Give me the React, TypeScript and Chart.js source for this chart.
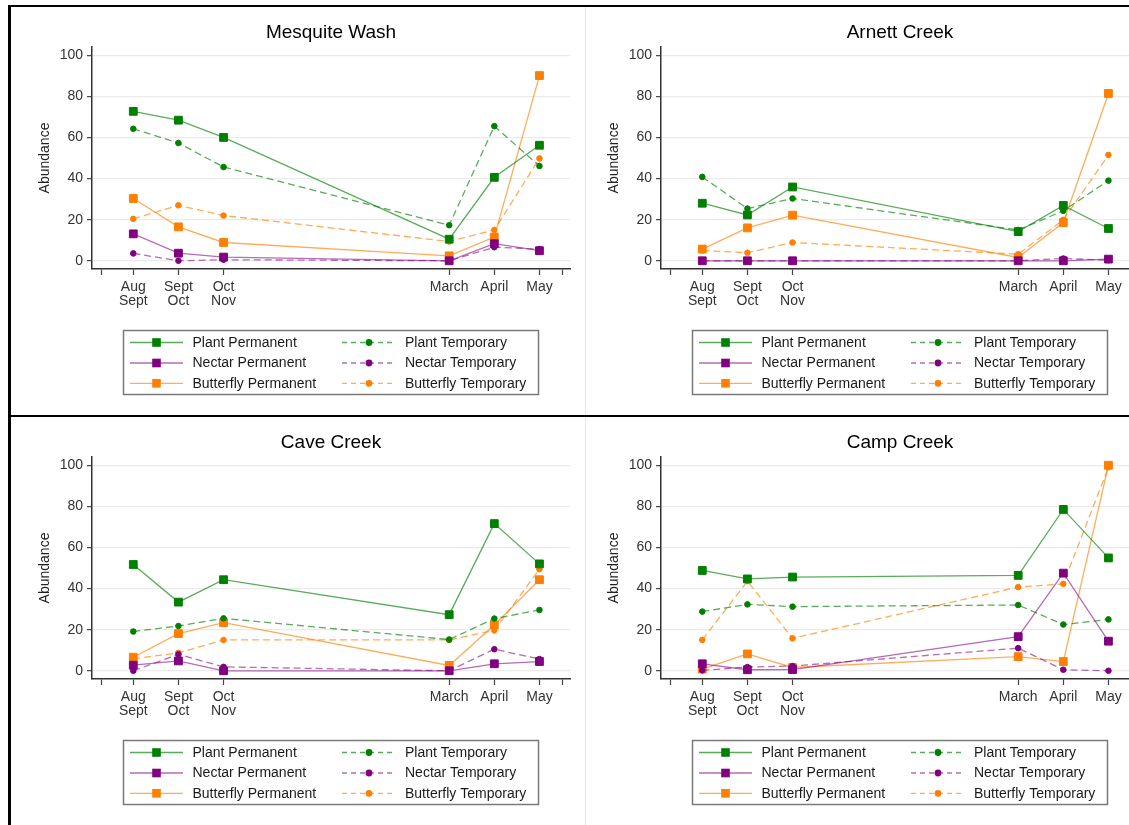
import React, { useEffect, useRef } from "react";
import { Chart, registerables } from "chart.js";

Chart.register(...registerables);

const FONT = '"Liberation Sans", Arial, Helvetica, sans-serif';
Chart.defaults.font.family = FONT;

// ---------- data ----------
const periodLabels: (string | string[])[] = [["Aug", "Sept"], ["Sept", "Oct"], ["Oct", "Nov"], "March", "April", "May"];
const periodX = [0, 1, 2, 7, 8, 9];
const edgeTicks = [-0.7, 9.5];
const yTicks = [0, 20, 40, 60, 80, 100];
const seriesNames = [
  "Plant Permanent",
  "Plant Temporary",
  "Nectar Permanent",
  "Nectar Temporary",
  "Butterfly Permanent",
  "Butterfly Temporary",
];

// Mesquite Wash
const mesquitePlantPerm = [72.7, 68.4, 60.0, 10.5, 40.6, 56.2];
const mesquitePlantTemp = [64.2, 57.3, 45.6, 17.3, 65.5, 46.1];
const mesquiteNectarPerm = [13.1, 3.7, 1.8, 0, 8.3, 4.9];
const mesquiteNectarTemp = [3.6, 0, 0.5, 0, 6.6, 5.7];
const mesquiteButterflyPerm = [30.3, 16.5, 8.9, 2.4, 11.5, 90.1];
const mesquiteButterflyTemp = [20.4, 27.0, 22.0, 9.4, 15.0, 49.8];

// Arnett Creek
const arnettPlantPerm = [28.0, 22.3, 35.9, 14.2, 26.9, 15.7];
const arnettPlantTemp = [40.8, 25.4, 30.3, 15.0, 24.3, 39.0];
const arnettNectarPerm = [0, 0, 0, 0, 0, 0.8];
const arnettNectarTemp = [0, 0, 0, 0, 1.1, 0.3];
const arnettButterflyPerm = [5.7, 16.0, 22.2, 1.6, 18.6, 81.4];
const arnettButterflyTemp = [5.0, 3.9, 8.9, 3.2, 19.9, 51.5];

// Cave Creek
const cavePlantPerm = [51.7, 33.4, 44.3, 27.3, 71.6, 52.0];
const cavePlantTemp = [19.1, 21.8, 25.5, 15.2, 25.4, 29.6];
const caveNectarPerm = [2.7, 4.8, 0, 0, 3.4, 4.5];
const caveNectarTemp = [0, 8.0, 1.9, 0, 10.5, 5.7];
const caveButterflyPerm = [6.6, 18.1, 23.4, 2.6, 22.3, 44.3];
const caveButterflyTemp = [5.8, 8.7, 15.0, 15.0, 19.7, 49.4];

// Camp Creek
const campPlantPerm = [48.8, 44.7, 45.6, 46.4, 78.5, 54.9];
const campPlantTemp = [28.8, 32.3, 31.2, 32.0, 22.5, 25.0];
const campNectarPerm = [3.4, 0.5, 0.6, 16.6, 47.5, 14.4];
const campNectarTemp = [0.2, 1.8, 2.3, 11.0, 0.5, 0];
const campButterflyPerm = [0.8, 8.2, 1.6, 6.9, 4.5, 100];
const campButterflyTemp = [15.0, 43.6, 15.8, 40.7, 42.3, 99.0];

// ---------- styling ----------
const W = 575;
const H = 405;

const groupColors = [
  { marker: "#008000", line: "rgba(0,128,0,0.65)" },
  { marker: "#800080", line: "rgba(128,0,128,0.58)" },
  { marker: "#ff7f00", line: "rgba(255,127,0,0.65)" },
];

function buildDatasets(series: number[][]) {
  return series.map((vals, i) => {
    const group = groupColors[Math.floor(i / 2)];
    const temporary = i % 2 === 1;
    return {
      label: seriesNames[i],
      data: periodX.map((x, k) => ({ x, y: vals[k] })),
      borderColor: group.line,
      backgroundColor: group.marker,
      borderWidth: 1.3,
      borderDash: temporary ? [7, 4] : [],
      tension: 0,
      pointStyle: temporary ? "circle" : "rect",
      pointRadius: temporary ? 2.8 : 5.5,
      pointBorderWidth: 1,
      pointBackgroundColor: group.marker,
      pointBorderColor: group.marker,
      pointHoverRadius: temporary ? 2.8 : 5.5,
    };
  });
}

const legendLayout = {
  box: { x: 113.5, y: 322.5, w: 415, h: 64 },
  rows: [334.5, 355, 375.3],
  cols: [
    { x0: 120, x1: 173, text: 182.5 },
    { x0: 332, x1: 386, text: 395 },
  ],
};

const boxLegend = {
  id: "boxLegend",
  afterDraw(chart: any) {
    const ctx = chart.ctx as CanvasRenderingContext2D;
    const L = legendLayout;
    ctx.save();
    ctx.strokeStyle = "#7a7a7a";
    ctx.lineWidth = 1.5;
    ctx.setLineDash([]);
    ctx.strokeRect(L.box.x, L.box.y, L.box.w, L.box.h);
    chart.data.datasets.forEach((ds: any, i: number) => {
      const col = L.cols[i % 2];
      const y = L.rows[Math.floor(i / 2)];
      ctx.strokeStyle = ds.borderColor;
      ctx.lineWidth = ds.borderWidth;
      ctx.setLineDash(ds.borderDash && ds.borderDash.length ? [5, 4] : []);
      ctx.beginPath();
      ctx.moveTo(col.x0, y);
      ctx.lineTo(col.x1, y);
      ctx.stroke();
      ctx.setLineDash([]);
      const xm = (col.x0 + col.x1) / 2;
      ctx.fillStyle = ds.pointBackgroundColor;
      if (ds.pointStyle === "rect") {
        ctx.fillRect(xm - 4.3, y - 4.3, 8.6, 8.6);
      } else {
        ctx.beginPath();
        ctx.arc(xm, y, 3.4, 0, Math.PI * 2);
        ctx.fill();
      }
      ctx.fillStyle = "#1a1a1a";
      ctx.font = `14px ${FONT}`;
      ctx.textBaseline = "middle";
      ctx.textAlign = "left";
      ctx.fillText(ds.label, col.text, y + 0.5);
    });
    ctx.restore();
  },
};

function Panel({ title, series, left, top }: { title: string; series: number[][]; left: number; top: number }) {
  const ref = useRef<HTMLCanvasElement>(null);
  useEffect(() => {
    const chart = new Chart(ref.current as HTMLCanvasElement, {
      type: "line",
      data: { datasets: buildDatasets(series) as any },
      plugins: [boxLegend],
      options: {
        animation: false,
        responsive: false,
        maintainAspectRatio: false,
        layout: { padding: { left: 0, right: 15, top: 0, bottom: 100 } },
        plugins: {
          legend: { display: false },
          tooltip: { enabled: false },
          title: {
            display: true,
            text: title,
            fullSize: false,
            color: "#000",
            font: { family: FONT, size: 19, weight: "normal", lineHeight: 1.2 },
            padding: { top: 12.9, bottom: 3.3 },
          },
        },
        scales: {
          x: {
            type: "linear",
            min: -0.915,
            max: 9.677,
            afterBuildTicks: (s: any) => {
              s.ticks = [edgeTicks[0], ...periodX, edgeTicks[1]].map((v) => ({ value: v }));
            },
            afterFit: (s: any) => {
              s.height = 44;
            },
            ticks: {
              autoSkip: false,
              maxRotation: 0,
              minRotation: 0,
              padding: 4.7,
              color: "#333",
              font: { family: FONT, size: 14, lineHeight: 1.0 },
              callback: (v: any) => {
                const i = periodX.indexOf(Number(v));
                return i >= 0 ? periodLabels[i] : "";
              },
            },
            grid: {
              display: true,
              drawOnChartArea: false,
              drawTicks: true,
              tickLength: 6,
              tickColor: "#444",
              tickWidth: 1.2,
            },
            border: { display: true, color: "#333", width: 1.5 },
          },
          y: {
            type: "linear",
            min: -4,
            max: 104,
            afterBuildTicks: (s: any) => {
              s.ticks = yTicks.map((v) => ({ value: v }));
            },
            afterFit: (s: any) => {
              s.width = 82;
            },
            ticks: {
              padding: 4,
              color: "#333",
              font: { family: FONT, size: 14 },
            },
            grid: {
              color: "#ebebeb",
              lineWidth: 1.3,
              drawTicks: true,
              tickLength: 5,
              tickColor: "#444",
              tickWidth: 1.2,
            },
            border: { display: true, color: "#333", width: 1.5 },
            title: {
              display: true,
              text: "Abundance",
              color: "#222",
              font: { family: FONT, size: 14 },
              padding: { top: 27, bottom: 0 },
            },
          },
        },
      } as any,
    });
    return () => chart.destroy();
  }, []);
  return (
    <div style={{ position: "absolute", left, top, width: W, height: H }}>
      <canvas ref={ref} width={W} height={H} style={{ width: W, height: H, display: "block" }} />
    </div>
  );
}

export default function App() {
  const line = (s: React.CSSProperties) => <div style={{ position: "absolute", ...s }} />;
  return (
    <div
      style={{
        position: "fixed",
        left: 0,
        top: 0,
        width: 1129,
        height: 825,
        overflow: "hidden",
        background: "#fff",
      }}
    >
      <Panel
        title="Mesquite Wash"
        left={10}
        top={8}
        series={[mesquitePlantPerm, mesquitePlantTemp, mesquiteNectarPerm, mesquiteNectarTemp, mesquiteButterflyPerm, mesquiteButterflyTemp]}
      />
      <Panel
        title="Arnett Creek"
        left={579}
        top={8}
        series={[arnettPlantPerm, arnettPlantTemp, arnettNectarPerm, arnettNectarTemp, arnettButterflyPerm, arnettButterflyTemp]}
      />
      <Panel
        title="Cave Creek"
        left={10}
        top={418}
        series={[cavePlantPerm, cavePlantTemp, caveNectarPerm, caveNectarTemp, caveButterflyPerm, caveButterflyTemp]}
      />
      <Panel
        title="Camp Creek"
        left={579}
        top={418}
        series={[campPlantPerm, campPlantTemp, campNectarPerm, campNectarTemp, campButterflyPerm, campButterflyTemp]}
      />
      {line({ left: 585, top: 7, width: 1, height: 818, background: "#e4e4e4" })}
      {line({ left: 8, top: 5, width: 1121, height: 2, background: "#000" })}
      {line({ left: 8, top: 5, width: 3, height: 820, background: "#000" })}
      {line({ left: 8, top: 415, width: 1121, height: 2, background: "#000" })}
    </div>
  );
}
